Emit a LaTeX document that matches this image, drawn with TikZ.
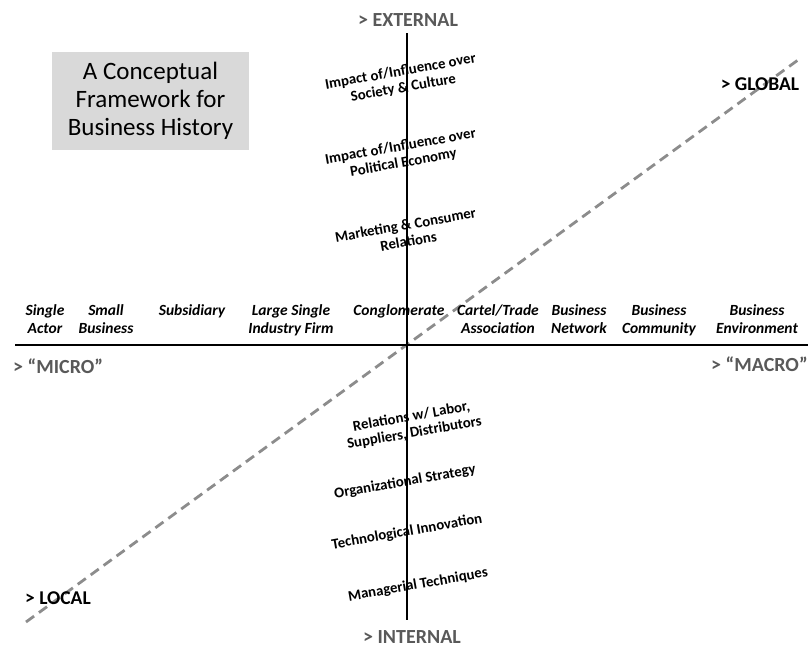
\documentclass[tikz,border=0pt]{standalone}
\usepackage{fontspec}
\setmainfont{Carlito}
\usetikzlibrary{positioning}
\definecolor{axisGrey}{HTML}{595959}
\definecolor{dashGrey}{HTML}{8C8C8C}
\definecolor{titleFill}{HTML}{D9D9D9}

\begin{document}
\begin{tikzpicture}[
    x=1pt, y=-1pt,
    axis/.style={line width=2.8pt, black},
    diag/.style={line width=2.8pt, dashGrey, dash pattern=on 10pt off 6pt},
    endlabel/.style={font=\fontsize{20}{24}\selectfont\bfseries, text=axisGrey, inner sep=0pt},
    poslabel/.style={font=\fontsize{19.5}{24}\selectfont\bfseries, inner sep=0pt},
    actor/.style={font=\fontsize{15.5}{18}\selectfont\bfseries\itshape, align=center, inner sep=0pt, anchor=north},
    realm/.style={font=\fontsize{14.8}{16.5}\selectfont\bfseries, align=center, rotate=10, inner sep=0pt},
    titlebox/.style={fill=titleFill, align=center, font=\fontsize{25}{28}\selectfont, minimum width=197pt, minimum height=98pt}
]
\useasboundingbox (0,0) rectangle (812,648);

% axis ends
\coordinate (top) at (407,33);
\coordinate (bottom) at (407,620);
\coordinate (left) at (15,345);
\coordinate (right) at (808,345);
\coordinate (local) at (26,622);
\coordinate (global) at (798,60);

\draw[diag] (local) -- (global);

\node[titlebox] (heading) at (150.5,101) {A Conceptual\\Framework for\\Business History};

% ends of the axes
\node[endlabel] (external) at (408,20) {> EXTERNAL};
\node[endlabel] (internal) at (412,637) {> INTERNAL};
\node[endlabel, anchor=west] (micro) at (13,366) {> “MICRO”};
\node[endlabel, anchor=east] (macro) at (808,364) {> “MACRO”};
\node[poslabel] (globalLbl) at (760,84) {> GLOBAL};
\node[poslabel] (localLbl) at (58,598) {> LOCAL};

% actors along the horizontal axis
\node[actor] (single) at (45,304) {Single\\Actor};
\node[actor] (small) at (106,304) {Small\\Business};
\node[actor] (subsidiary) at (192,304) {Subsidiary};
\node[actor] (large) at (291,304) {Large Single\\Industry Firm};
\node[actor] (conglomerate) at (399,304) {Conglomerate};
\node[actor] (cartel) at (498,304) {Cartel/Trade\\Association};
\node[actor] (network) at (579,304) {Business\\Network};
\node[actor] (community) at (659,304) {Business\\Community};
\node[actor] (environment) at (757,304) {Business\\Environment};

% realms along the vertical axis
\node[realm] (society) at (402,80) {Impact of/Influence over\\Society \& Culture};
\node[realm] (polity) at (402,155) {Impact of/Influence over\\Political Economy};
\node[realm] (marketing) at (407,233) {Marketing \& Consumer\\Relations};
\node[realm] (labor) at (413,425) {Relations w/ Labor,\\Suppliers, Distributors};
\node[realm] (strategy) at (405,482) {Organizational Strategy};
\node[realm] (innovation) at (407,532) {Technological Innovation};
\node[realm] (managerial) at (418,585) {Managerial Techniques};

\draw[axis] (top) -- (bottom);
\draw[axis] (left) -- (right);

\end{tikzpicture}
\end{document}
